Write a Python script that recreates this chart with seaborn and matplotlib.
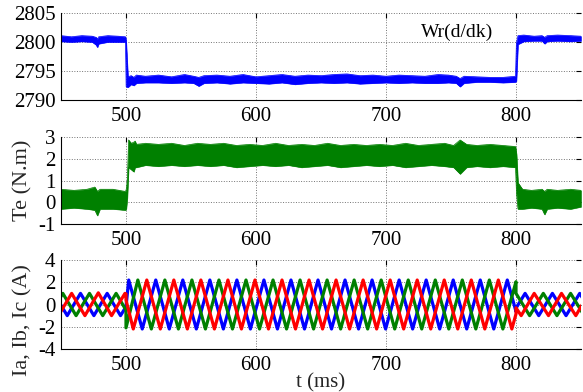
import matplotlib
matplotlib.use("Agg")
import matplotlib.pyplot as plt
import seaborn as sns

# ---------------- data ----------------
# speed band (rpm): time, lower envelope, upper envelope
t_w = [450, 458, 466, 474, 477, 478, 479, 486, 494, 499.6,
       500.1, 501.5, 504, 506, 508, 515, 525, 535, 545, 552,
       556, 560, 570, 580, 590, 600, 610, 620, 630, 640,
       650, 660, 670, 680, 690, 700, 710, 720, 730, 740,
       748, 754, 757, 760, 770, 780, 790, 799.6, 800.3, 801.5,
       806, 814, 820, 822, 824, 832, 842, 850]
w_hi = [2801.1, 2800.9, 2801.1, 2801.0, 2800.8, 2800.5, 2800.9, 2801.1, 2801.0, 2800.9,
        2800.2, 2794.0, 2794.2, 2793.9, 2794.3, 2794.1, 2794.3, 2794.0, 2794.4, 2794.1,
        2793.9, 2794.2, 2794.3, 2794.1, 2794.4, 2794.0, 2794.2, 2794.4, 2794.1, 2794.3,
        2794.2, 2794.4, 2794.5, 2794.2, 2794.3, 2794.1, 2794.3, 2794.2, 2794.1, 2794.4,
        2794.3, 2794.1, 2793.7, 2794.1, 2794.0, 2793.9, 2793.9, 2794.1, 2799.8, 2801.1,
        2801.2, 2801.0, 2801.1, 2800.8, 2801.1, 2801.2, 2801.1, 2801.0]
w_lo = [2800.1, 2800.0, 2800.1, 2800.0, 2799.5, 2799.1, 2799.7, 2800.0, 2800.0, 2800.0,
        2792.3, 2792.2, 2792.7, 2792.5, 2792.9, 2793.0, 2793.0, 2792.9, 2793.0, 2792.9,
        2792.4, 2792.9, 2793.0, 2792.8, 2793.0, 2792.9, 2792.8, 2793.0, 2792.7, 2792.9,
        2793.0, 2792.9, 2793.0, 2792.8, 2792.9, 2793.0, 2792.9, 2793.0, 2792.9, 2792.9,
        2793.0, 2792.9, 2792.3, 2792.9, 2793.1, 2793.1, 2793.0, 2793.1, 2793.3, 2799.6,
        2800.1, 2800.2, 2800.2, 2799.7, 2800.1, 2800.2, 2800.1, 2800.2]

# torque band (N.m)
t_te = [450, 460, 470, 476, 478, 480, 490, 499.6, 500.2, 501,
        502, 504, 506, 507, 508, 515, 525, 535, 545, 555,
        565, 575, 585, 595, 605, 615, 625, 635, 645, 655,
        665, 675, 685, 695, 705, 715, 725, 735, 745, 752,
        757, 762, 770, 780, 790, 799.6, 800.4, 801.5, 805, 812,
        820, 822, 824, 832, 842, 850]
te_hi = [0.6, 0.55, 0.6, 0.7, 0.5, 0.6, 0.6, 0.5, 0.6, 1.0,
         2.85, 2.7, 2.75, 2.8, 2.65, 2.7, 2.65, 2.7, 2.6, 2.7,
         2.65, 2.7, 2.6, 2.65, 2.6, 2.7, 2.6, 2.65, 2.6, 2.7,
         2.6, 2.65, 2.6, 2.65, 2.6, 2.7, 2.6, 2.65, 2.7, 2.6,
         2.85, 2.65, 2.6, 2.65, 2.6, 2.55, 2.2, 0.9, 0.6, 0.55,
         0.6, 0.5, 0.6, 0.55, 0.6, 0.55]
te_lo = [-0.3, -0.25, -0.3, -0.35, -0.6, -0.3, -0.3, -0.35, -0.3, 0.2,
         1.6, 1.5, 1.4, 1.6, 1.6, 1.7, 1.65, 1.7, 1.65, 1.7,
         1.65, 1.7, 1.6, 1.65, 1.7, 1.65, 1.7, 1.6, 1.65, 1.7,
         1.6, 1.65, 1.7, 1.65, 1.7, 1.6, 1.65, 1.7, 1.65, 1.6,
         1.3, 1.6, 1.65, 1.6, 1.65, 1.6, 0.4, -0.3, -0.3, -0.25,
         -0.3, -0.55, -0.3, -0.25, -0.3, -0.2]

# phase currents (A): turning points
ia_t = [444.5, 454.8, 465.0, 475.3, 485.5, 495.8, 500.0,
        500.0, 502.1, 512.5, 522.9, 533.3, 543.7, 554.1, 564.5, 574.9, 585.3, 595.7,
        606.1, 616.5, 626.9, 637.3, 647.7, 658.1, 668.5, 678.9, 689.3, 699.7,
        710.1, 720.5, 730.9, 741.3, 751.7, 762.1, 772.5, 782.9, 793.3, 800.0,
        800.0, 807.0, 817.5, 828.0, 838.5, 849.0, 859.5]
ia_v = [1.0, -1.0, 1.0, -1.0, 1.0, -1.0, -0.2,
        -0.2, 2.2, -2.2, 2.2, -2.2, 2.2, -2.2, 2.2, -2.2, 2.2, -2.2,
        2.2, -2.2, 2.2, -2.2, 2.2, -2.2, 2.2, -2.2, 2.2, -2.2,
        2.2, -2.2, 2.2, -2.2, 2.2, -2.2, 2.2, -2.2, 2.2, -0.63,
        -0.33, 1.0, -1.0, 1.0, -1.0, 1.0, -1.0]

ib_t = [441.2, 451.4, 461.6, 471.9, 482.1, 492.4, 500.0,
        500.0, 509.1, 519.5, 529.9, 540.3, 550.7, 561.1, 571.5, 581.9, 592.3,
        602.7, 613.1, 623.5, 633.9, 644.3, 654.7, 665.1, 675.5, 685.9, 696.3,
        706.7, 717.1, 727.5, 737.9, 748.3, 758.7, 769.1, 779.5, 789.9, 800.0,
        800.0, 810.5, 821.0, 831.5, 842.0, 852.5]
ib_v = [-1.0, 1.0, -1.0, 1.0, -1.0, 1.0, -0.5,
        -2.1, 2.2, -2.2, 2.2, -2.2, 2.2, -2.2, 2.2, -2.2, 2.2,
        -2.2, 2.2, -2.2, 2.2, -2.2, 2.2, -2.2, 2.2, -2.2, 2.2,
        -2.2, 2.2, -2.2, 2.2, -2.2, 2.2, -2.2, 2.2, -2.2, 2.05,
        1.0, -1.0, 1.0, -1.0, 1.0, -1.0]

ic_t = [448.0, 458.2, 468.4, 478.7, 488.9, 499.2, 500.0,
        500.0, 505.6, 516.0, 526.4, 536.8, 547.2, 557.6, 568.0, 578.4, 588.8,
        599.2, 609.6, 620.0, 630.4, 640.8, 651.2, 661.6, 672.0, 682.4, 692.8,
        703.2, 713.6, 724.0, 734.4, 744.8, 755.2, 765.6, 776.0, 786.4, 796.8, 800.0,
        800.0, 804.0, 814.0, 825.0, 835.0, 846.0, 856.0]
ic_v = [-1.0, 1.0, -1.0, 1.05, -1.0, 1.0, 0.95,
        0.4, -2.2, 2.2, -2.2, 2.2, -2.2, 2.2, -2.2, 2.2, -2.2,
        2.2, -2.2, 2.2, -2.2, 2.2, -2.2, 2.2, -2.2, 2.2, -2.2,
        2.2, -2.2, 2.2, -2.2, 2.2, -2.2, 2.2, -2.2, 2.2, -2.2, -0.85,
        -0.3, -1.0, 1.0, -1.0, 1.0, -1.0, 1.0]

x_ticks = [500, 600, 700, 800]
w_ticks = [2790, 2795, 2800, 2805]
te_ticks = [-1, 0, 1, 2, 3]
i_ticks = [-4, -2, 0, 2, 4]

BLUE, GREEN, RED = "#0000FF", "#008000", "#FF0000"

# ---------------- style ----------------
sns.set_theme(style="white")
plt.rcParams["font.family"] = ["Liberation Serif", "DejaVu Serif"]
plt.rcParams["axes.unicode_minus"] = False

fig = plt.figure(figsize=(5.83, 3.92), dpi=100)
L, W = 61 / 583, 520 / 583
ax1 = fig.add_axes([L, 1 - 100 / 392, W, 87 / 392])
ax2 = fig.add_axes([L, 1 - 224.3 / 392, W, 87.6 / 392])
ax3 = fig.add_axes([L, 1 - 349 / 392, W, 89 / 392])


def style(ax, yticks):
    ax.set_xlim(450, 850)
    ax.set_ylim(yticks[0], yticks[-1])
    ax.set_xticks(x_ticks)
    ax.set_yticks(yticks)
    ax.set_xticklabels([str(v) for v in x_ticks])
    ax.set_yticklabels([str(v) for v in yticks])
    ax.grid(True, linestyle=":", color="0.45", linewidth=0.7)
    ax.set_axisbelow(True)
    for s in ["top", "right"]:
        ax.spines[s].set_visible(False)
    for s in ["left", "bottom"]:
        ax.spines[s].set_color("black")
        ax.spines[s].set_linewidth(0.8)
    ax.tick_params(direction="in", top=True, right=True, length=3.5, width=0.8,
                   colors="black", labelsize=15, pad=4)
    ax.tick_params(axis="x", pad=5)
    ax.set_xlabel("")
    ax.set_ylabel("")


# speed
ax1.fill_between(t_w, w_lo, w_hi, color=BLUE, linewidth=0.4, edgecolor=BLUE)
sns.lineplot(x=t_w, y=w_hi, ax=ax1, color=BLUE, linewidth=0.5, sort=False, estimator=None)
sns.lineplot(x=t_w, y=w_lo, ax=ax1, color=BLUE, linewidth=0.5, sort=False, estimator=None)
style(ax1, w_ticks)
ax1.text(727, 2801.6, "Wr(d/dk)", fontsize=14, ha="left", va="center", color="black")

# torque
ax2.fill_between(t_te, te_lo, te_hi, color=GREEN, linewidth=0.4, edgecolor=GREEN)
sns.lineplot(x=t_te, y=te_hi, ax=ax2, color=GREEN, linewidth=0.5, sort=False, estimator=None)
sns.lineplot(x=t_te, y=te_lo, ax=ax2, color=GREEN, linewidth=0.5, sort=False, estimator=None)
style(ax2, te_ticks)
ax2.set_ylabel("Te (N.m)", fontsize=16)

# currents
sns.lineplot(x=ia_t, y=ia_v, ax=ax3, color=BLUE, linewidth=2.3, sort=False, estimator=None)
sns.lineplot(x=ib_t, y=ib_v, ax=ax3, color=GREEN, linewidth=2.3, sort=False, estimator=None)
sns.lineplot(x=ic_t, y=ic_v, ax=ax3, color=RED, linewidth=2.3, sort=False, estimator=None)
style(ax3, i_ticks)
ax3.set_ylabel("Ia, Ib, Ic (A)", fontsize=16)
ax3.set_xlabel("t (ms)", fontsize=15, labelpad=-1)

for ax in (ax2, ax3):
    ax.yaxis.set_label_coords(-38 / 520, 0.5)
    ax.yaxis.label.set_va("center")
ax3.yaxis.set_label_coords(-38 / 520, 0.32)

fig.savefig("out.png", dpi=100)
